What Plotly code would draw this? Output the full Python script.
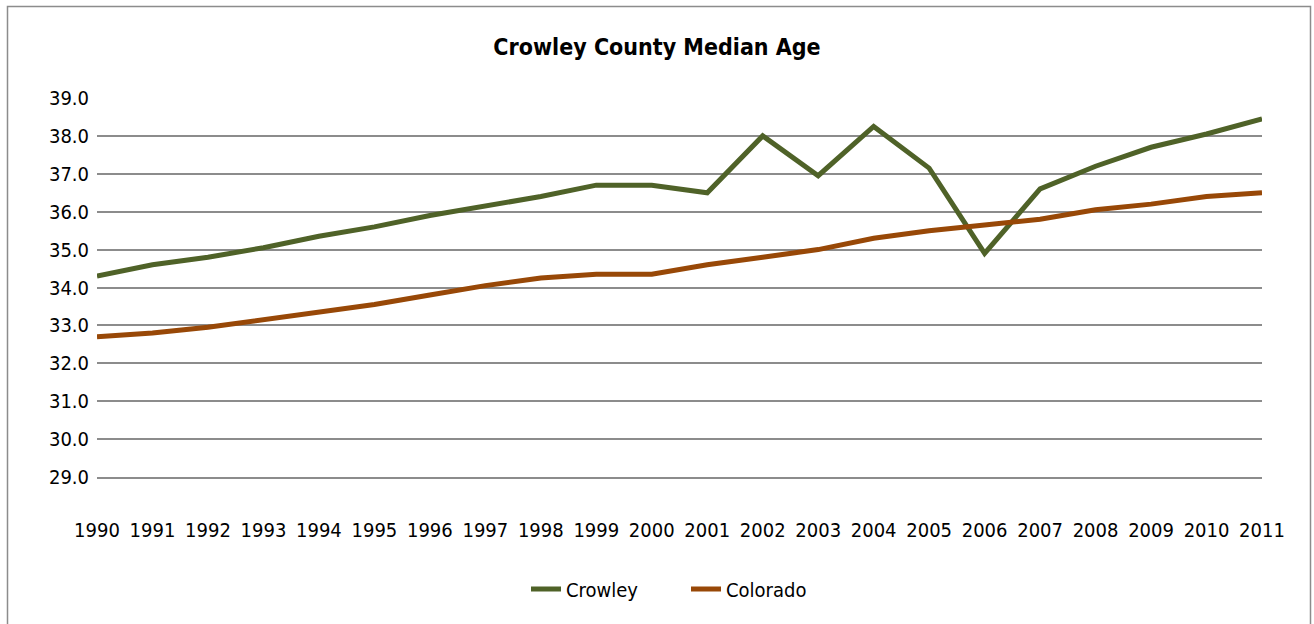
import plotly.graph_objects as go

years = list(range(1990, 2012))
crowley = [34.3, 34.6, 34.8, 35.05, 35.35, 35.6, 35.9, 36.15, 36.4, 36.7, 36.7, 36.5,
           38.0, 36.95, 38.25, 37.15, 34.9, 36.6, 37.2, 37.7, 38.05, 38.45]
colorado = [32.7, 32.8, 32.95, 33.15, 33.35, 33.55, 33.8, 34.05, 34.25, 34.35, 34.35, 34.6,
            34.8, 35.0, 35.3, 35.5, 35.65, 35.8, 36.05, 36.2, 36.4, 36.5]
ytick_vals = [29, 30, 31, 32, 33, 34, 35, 36, 37, 38, 39]

FONT = "DejaVu Sans Condensed, sans-serif"

fig = go.Figure()
fig.add_trace(go.Scatter(x=years, y=crowley, mode="lines", name="Crowley",
                         line=dict(color="#4F6228", width=5)))
fig.add_trace(go.Scatter(x=years, y=colorado, mode="lines", name="Colorado",
                         line=dict(color="#984807", width=5)))

L, R, T, B = 97, 52, 98, 147
W, H = 1314, 624
pw, ph = W - L - R, H - T - B

def px(x):
    return (x - L) / pw

def py(y):
    return (H - B - y) / ph

fig.update_layout(
    width=W, height=H,
    margin=dict(l=L, r=R, t=T, b=B, autoexpand=False),
    paper_bgcolor="white", plot_bgcolor="white",
    font=dict(family=FONT, size=20, color="black"),
    title=dict(text="<b>Crowley County Median Age</b>", x=0.5, xanchor="center",
               y=1 - 47 / H, yanchor="middle", yref="container",
               font=dict(family=FONT, size=23, color="black")),
    showlegend=True,
    legend=dict(orientation="h", x=px(526), xanchor="left", y=py(589), yanchor="middle",
                entrywidth=115, entrywidthmode="pixels",
                font=dict(family=FONT, size=20), bgcolor="rgba(0,0,0,0)"),
    xaxis=dict(range=[1990, 2011], tickmode="array", tickvals=years,
               ticktext=[str(y) for y in years], showgrid=False, zeroline=False,
               showline=True, linecolor="#8C8C8C", linewidth=2, ticks="",
               tickangle=0, automargin=False, ticklabelstandoff=34,
               tickfont=dict(family=FONT, size=20)),
    yaxis=dict(range=[29, 39], tickmode="array", tickvals=ytick_vals,
               ticktext=[f"{v:.1f}" for v in ytick_vals], showgrid=True,
               gridcolor="#8C8C8C", gridwidth=2, zeroline=False, showline=False,
               ticks="", automargin=False, ticklabelstandoff=7,
               tickfont=dict(family=FONT, size=20)),
    shapes=[dict(type="rect", xref="paper", yref="paper",
                 x0=px(7.5), x1=px(1310.5), y0=py(640), y1=py(6.5),
                 line=dict(color="#8C8C8C", width=1.5), fillcolor="rgba(0,0,0,0)",
                 layer="below")],
)

fig.write_html("out.html", config={"displayModeBar": False},
               post_script="document.body.style.margin='0';document.body.style.overflow='hidden';")
